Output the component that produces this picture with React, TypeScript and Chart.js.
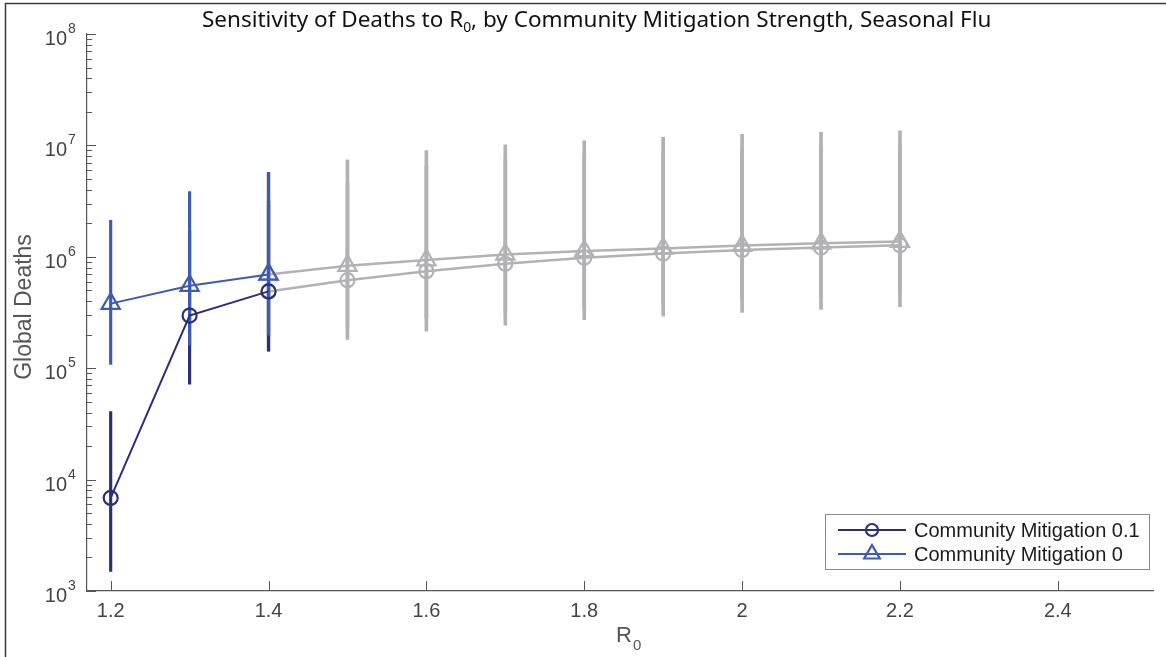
import React, { useEffect, useRef } from 'react';
import { Chart, registerables } from 'chart.js';

Chart.register(...registerables);

// ---------- data ----------
const R0_COLORED = [1.2, 1.3, 1.4];
const MIT01_DEATHS = [6850, 297000, 489000];
const MIT01_LOW = [1500, 72000, 142000];
const MIT01_HIGH = [40700, 1700000, 3170000];
const MIT0_DEATHS = [380000, 550000, 695000];
const MIT0_LOW = [108000, 161000, 198000];
const MIT0_HIGH = [2120000, 3850000, 5740000];

const R0_GRAY = [1.4, 1.5, 1.6, 1.7, 1.8, 1.9, 2.0, 2.1, 2.2];
const GRAY01_DEATHS = [489000, 617000, 743000, 866000, 982000, 1070000, 1150000, 1210000, 1270000];
const GRAY01_LOW = [142000, 181000, 215000, 243000, 272000, 293000, 316000, 337000, 356000];
const GRAY01_HIGH = [3170000, 4600000, 6500000, 7500000, 8200000, 8800000, 9300000, 9700000, 10000000];
const GRAY0_DEATHS = [695000, 832000, 934000, 1050000, 1130000, 1190000, 1260000, 1320000, 1370000];
const GRAY0_LOW = [198000, 235000, 280000, 315000, 350000, 380000, 410000, 438000, 462000];
const GRAY0_HIGH = [5740000, 7410000, 9000000, 10100000, 11000000, 11800000, 12600000, 13100000, 13500000];

const X_TICKS = [1.2, 1.4, 1.6, 1.8, 2.0, 2.2, 2.4];
const Y_MAJOR_EXPONENTS = [3, 4, 5, 6, 7, 8];
const Y_MINOR_MULTIPLIERS = [2, 3, 4, 5, 6, 7, 8, 9];

const TITLE_BEFORE = 'Sensitivity of Deaths to R';
const TITLE_SUB = '0';
const TITLE_AFTER = ', by Community Mitigation Strength, Seasonal Flu';
const Y_TITLE = 'Global Deaths';
const X_TITLE = 'R';
const X_TITLE_SUB = '0';
const LEGEND_LABELS = ['Community Mitigation 0.1', 'Community Mitigation 0'];

const DARK = '#2b2e7c';
const BLUE = '#3d5bb0';
const GRAY = '#b2b2b5';
const AXIS = '#555555';
const SANS = '"Liberation Sans", Arial, sans-serif';
const TITLE_FONT = '"Noto Sans", "Open Sans", sans-serif';

const errBars = (label: string, xs: number[], lo: number[], hi: number[], color: string, order: number, thick = 3) => ({
  type: 'bar' as const,
  label,
  data: xs.map((x, i) => ({ x, y: [lo[i], hi[i]] })),
  backgroundColor: color,
  borderWidth: 0,
  barThickness: thick,
  grouped: false,
  order,
});

const series = (label: string, xs: number[], ys: number[], color: string, style: string, radius: number, order: number, width = 2) => ({
  type: 'line' as const,
  label,
  data: xs.map((x, i) => ({ x, y: ys[i] })),
  borderColor: color,
  borderWidth: width,
  pointStyle: style,
  pointRadius: radius,
  pointBorderWidth: 2.2,
  pointBorderColor: color,
  pointBackgroundColor: 'rgba(0,0,0,0)',
  fill: false,
  tension: 0,
  order,
});

const decor = {
  id: 'decor',
  beforeDraw(chart: any) {
    const { ctx, width, height } = chart;
    ctx.save();
    ctx.fillStyle = '#ffffff';
    ctx.fillRect(0, 0, width, height);
    ctx.strokeStyle = '#3a3a3a';
    ctx.lineWidth = 1.5;
    ctx.beginPath();
    ctx.moveTo(5, 3.5);
    ctx.lineTo(width, 3.5);
    ctx.moveTo(5.5, 3);
    ctx.lineTo(5.5, height);
    ctx.stroke();
    ctx.restore();
  },
  beforeDatasetsDraw(chart: any) {
    const { ctx, chartArea, scales } = chart;
    const x = scales.x;
    const y = scales.y;
    ctx.save();
    ctx.strokeStyle = AXIS;
    ctx.lineWidth = 1;
    ctx.beginPath();
    X_TICKS.forEach((v) => {
      const px = Math.round(x.getPixelForValue(v)) + 0.5;
      ctx.moveTo(px, chartArea.bottom);
      ctx.lineTo(px, chartArea.bottom - 10);
    });
    Y_MAJOR_EXPONENTS.forEach((e) => {
      const py = Math.round(y.getPixelForValue(Math.pow(10, e))) + 0.5;
      ctx.moveTo(chartArea.left, py);
      ctx.lineTo(chartArea.left + 9, py);
      if (e < 8) {
        Y_MINOR_MULTIPLIERS.forEach((m) => {
          const pm = Math.round(y.getPixelForValue(m * Math.pow(10, e))) + 0.5;
          ctx.moveTo(chartArea.left, pm);
          ctx.lineTo(chartArea.left + 5, pm);
        });
      }
    });
    ctx.stroke();
    ctx.restore();
  },
  afterDraw(chart: any) {
    const { ctx, chartArea, scales } = chart;
    const y = scales.y;
    ctx.save();
    // y tick labels 10^n
    ctx.fillStyle = '#444444';
    Y_MAJOR_EXPONENTS.forEach((e) => {
      const py = y.getPixelForValue(Math.pow(10, e));
      ctx.font = `20px ${SANS}`;
      ctx.textAlign = 'right';
      ctx.textBaseline = 'alphabetic';
      ctx.fillText('10', 67, py + 11);
      ctx.font = `14px ${SANS}`;
      ctx.textAlign = 'left';
      ctx.fillText(String(e), 68, py - 1);
    });

    // y axis title
    ctx.save();
    ctx.translate(31, 307);
    ctx.rotate(-Math.PI / 2);
    ctx.font = `23px ${SANS}`;
    ctx.fillStyle = '#555555';
    ctx.textAlign = 'center';
    ctx.textBaseline = 'alphabetic';
    ctx.fillText(Y_TITLE, 0, 0);
    ctx.restore();

    // x axis title R0
    ctx.fillStyle = '#555555';
    ctx.textAlign = 'left';
    ctx.textBaseline = 'alphabetic';
    ctx.font = `22px ${SANS}`;
    const rw = ctx.measureText(X_TITLE).width;
    const xt = 616;
    ctx.fillText(X_TITLE, xt, 642);
    ctx.font = `15px ${SANS}`;
    ctx.fillText(X_TITLE_SUB, xt + rw + 1, 650);

    // title with subscript
    ctx.fillStyle = '#111111';
    const measure = (s: number) => {
      ctx.font = `${s}px ${TITLE_FONT}`;
      const a = ctx.measureText(TITLE_BEFORE).width;
      const c = ctx.measureText(TITLE_AFTER).width;
      ctx.font = `${s * 0.62}px ${TITLE_FONT}`;
      const b = ctx.measureText(TITLE_SUB).width;
      return { a, b, c, t: a + b + c };
    };
    const m0 = measure(20);
    const size = (20 * 790) / m0.t;
    const m = measure(size);
    let tx = 202;
    ctx.font = `${size}px ${TITLE_FONT}`;
    ctx.fillText(TITLE_BEFORE, tx, 27);
    tx += m.a;
    ctx.font = `${size * 0.62}px ${TITLE_FONT}`;
    ctx.fillText(TITLE_SUB, tx, 32);
    tx += m.b;
    ctx.font = `${size}px ${TITLE_FONT}`;
    ctx.fillText(TITLE_AFTER, tx, 27);

    // legend
    const bx = 825.5, by = 514.5, bw = 324, bh = 55;
    ctx.fillStyle = '#ffffff';
    ctx.fillRect(bx, by, bw, bh);
    ctx.strokeStyle = '#8c8c8c';
    ctx.lineWidth = 1;
    ctx.strokeRect(bx, by, bw, bh);
    const rows = [
      { color: DARK, style: 'circle', r: 6, yy: 530 },
      { color: BLUE, style: 'triangle', r: 9, yy: 554 },
    ];
    rows.forEach((row, i) => {
      ctx.strokeStyle = row.color;
      ctx.lineWidth = 2;
      ctx.beginPath();
      ctx.moveTo(838, row.yy);
      ctx.lineTo(906, row.yy);
      ctx.stroke();
      ctx.lineWidth = 2.2;
      ctx.beginPath();
      if (row.style === 'circle') {
        ctx.arc(872, row.yy, row.r, 0, Math.PI * 2);
      } else {
        const r = row.r;
        ctx.moveTo(872, row.yy - r);
        ctx.lineTo(872 + r * Math.sin((2 * Math.PI) / 3), row.yy - r * Math.cos((2 * Math.PI) / 3));
        ctx.lineTo(872 + r * Math.sin((4 * Math.PI) / 3), row.yy - r * Math.cos((4 * Math.PI) / 3));
        ctx.closePath();
      }
      ctx.stroke();
      ctx.fillStyle = '#1a1a1a';
      ctx.font = `20px ${SANS}`;
      ctx.textAlign = 'left';
      ctx.textBaseline = 'middle';
      ctx.fillText(LEGEND_LABELS[i], 914, row.yy + 1);
    });
    ctx.restore();
  },
};

export default function App() {
  const ref = useRef<HTMLCanvasElement | null>(null);
  useEffect(() => {
    if (!ref.current) return;
    const chart = new Chart(ref.current, {
      type: 'line',
      data: {
        datasets: [
          errBars('gray 0.1 err', R0_GRAY, GRAY01_LOW, GRAY01_HIGH, GRAY, 20),
          errBars('gray 0 err', R0_GRAY, GRAY0_LOW, GRAY0_HIGH, GRAY, 19),
          series('gray 0.1', R0_GRAY, GRAY01_DEATHS, GRAY, 'circle', 7, 18, 2.5),
          series('gray 0', R0_GRAY, GRAY0_DEATHS, GRAY, 'triangle', 10.5, 17, 2.5),
          errBars('Community Mitigation 0.1 err', R0_COLORED, MIT01_LOW, MIT01_HIGH, DARK, 10, 2.5),
          errBars('Community Mitigation 0 err', R0_COLORED, MIT0_LOW, MIT0_HIGH, BLUE, 9, 2.5),
          series(LEGEND_LABELS[0], R0_COLORED, MIT01_DEATHS, DARK, 'circle', 7, 8),
          series(LEGEND_LABELS[1], R0_COLORED, MIT0_DEATHS, BLUE, 'triangle', 10.5, 7),
        ] as any,
      },
      options: {
        responsive: false,
        animation: false,
        devicePixelRatio: 1,
        layout: { padding: { top: 34, left: 0, right: 0, bottom: 0 } },
        plugins: {
          legend: { display: false },
          title: { display: false },
          tooltip: { enabled: false },
        },
        scales: {
          x: {
            type: 'linear',
            min: 1.17,
            max: 2.521,
            offset: false,
            afterFit: (s: any) => {
              s.height = 66;
            },
            afterBuildTicks: (s: any) => {
              s.ticks = X_TICKS.map((value) => ({ value }));
            },
            ticks: {
              autoSkip: false,
              maxRotation: 0,
              padding: 8,
              color: '#444444',
              font: { family: SANS, size: 20 },
              callback: (v: any) => String(Math.round(Number(v) * 10) / 10),
            },
            grid: { display: false, drawTicks: false },
            border: { display: true, color: AXIS, width: 1.2 },
          },
          y: {
            type: 'logarithmic',
            min: 1e3,
            max: 1e8,
            afterFit: (s: any) => {
              s.width = 87;
            },
            ticks: { display: false },
            grid: { display: false, drawTicks: false },
            border: { display: true, color: AXIS, width: 1.2 },
          },
        },
      },
      plugins: [decor],
    } as any);
    return () => chart.destroy();
  }, []);
  return (
    <div style={{ position: 'absolute', left: 0, top: 0, width: 1166, height: 657 }}>
      <canvas ref={ref} width={1166} height={657} />
    </div>
  );
}
